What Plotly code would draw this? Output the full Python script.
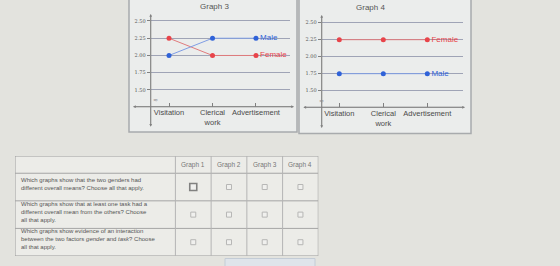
import plotly.graph_objects as go

W, H = 560, 266


def px(x):
    return x / W


def py(y):
    return 1 - y / H


# ---------------- data ----------------
tasks = ["Visitation", "Clerical work", "Advertisement"]
task_ticktext = ["Visitation", "Clerical<br>work", "Advertisement"]
y_ticks = [1.50, 1.75, 2.00, 2.25, 2.50]
y_ticktext = ["1.50", "1.75", "2.00", "2.25", "2.50"]

g3_male = [2.00, 2.25, 2.25]
g3_female = [2.25, 2.00, 2.00]
g4_female = [2.25, 2.25, 2.25]
g4_male = [1.75, 1.75, 1.75]

graph_names = ["Graph 1", "Graph 2", "Graph 3", "Graph 4"]
questions = [
    "Which graphs show that the two genders had<br>different overall means? Choose all that apply.",
    "Which graphs show that at least one task had a<br>different overall mean from the others? Choose<br>all that apply.",
    "Which graphs show evidence of an interaction<br>between the two factors <i>gender</i> and <i>task</i>? Choose<br>all that apply.",
]
focused = [[True, False, False, False],
           [False, False, False, False],
           [False, False, False, False]]

# ---------------- style ----------------
FONT = "Liberation Sans, Arial, sans-serif"
BLUE_M, BLUE_L = "#2f62d8", "#7f9de4"
RED_M, RED_L = "#e8444a", "#e07b7d"
GRID = "#9fa4b6"
AX = "#808080"

fig = go.Figure()


def add_series(xa, ya, vals, line_c, mark_c, label):
    fig.add_trace(go.Scatter(
        x=tasks, y=vals, xaxis=xa, yaxis=ya,
        mode="lines+markers+text",
        line=dict(color=line_c, width=1),
        marker=dict(color=mark_c, size=5),
        text=["", "", label], textposition="middle right",
        textfont=dict(color=mark_c, size=8, family=FONT),
        showlegend=False, hoverinfo="skip", cliponaxis=False,
    ))


add_series("x", "y", g3_female, RED_L, RED_M, "Female")
add_series("x", "y", g3_male, BLUE_L, BLUE_M, "Male")
add_series("x2", "y2", g4_female, RED_L, RED_M, "Female")
add_series("x2", "y2", g4_male, BLUE_L, BLUE_M, "Male")

# table checkboxes
cb_x, cb_y, cb_size, cb_lc, cb_lw = [], [], [], [], []
for i in range(len(questions)):
    for j in range(len(graph_names)):
        cb_x.append(j)
        cb_y.append(i)
        f = focused[i][j]
        cb_size.append(7 if f else 5)
        cb_lc.append("#555555" if f else "#a0a0a0")
        cb_lw.append(1.6 if f else 1)
fig.add_trace(go.Scatter(
    x=cb_x, y=cb_y, xaxis="x3", yaxis="y3", mode="markers",
    marker=dict(symbol="square", size=cb_size, color="#f3f3f1",
                line=dict(color=cb_lc, width=cb_lw)),
    showlegend=False, hoverinfo="skip",
))

common_x = dict(type="category", categoryorder="array", categoryarray=tasks,
                tickvals=tasks, ticktext=task_ticktext, anchor="free",
                ticks="inside", ticklen=4, tickcolor=AX, showline=False,
                showgrid=False, zeroline=False,
                tickfont=dict(size=7.5, color="#4a4a4a", family=FONT))
common_y = dict(tickvals=y_ticks, ticktext=y_ticktext, ticks="outside",
                ticklen=3, tickcolor=AX, showgrid=True, gridcolor=GRID,
                gridwidth=1, zeroline=False, showline=False,
                tickfont=dict(size=5, color="#555", family="DejaVu Serif"))

fig.update_layout(
    width=W, height=H, margin=dict(l=0, r=0, t=0, b=0),
    paper_bgcolor="#e3e3de", plot_bgcolor="rgba(0,0,0,0)",
    xaxis=dict(domain=[px(150.7), px(290)], range=[-0.421, 2.782],
               position=py(106.7), **common_x),
    yaxis=dict(domain=[py(126.7), py(14)], range=[0.968, 2.601],
               anchor="x", **common_y),
    xaxis2=dict(domain=[px(321.7), px(463)], range=[-0.4, 2.811],
                position=py(107.3), **common_x),
    yaxis2=dict(domain=[py(128), py(15)], range=[0.951, 2.613],
                anchor="x2", **common_y),
    xaxis3=dict(domain=[px(15), px(318.3)], range=[-4.99, 3.5], anchor="y3",
                visible=False, showgrid=False, zeroline=False),
    yaxis3=dict(domain=[py(256), py(156)], range=[2.5, -1.125], anchor="x3",
                visible=False, showgrid=False, zeroline=False),
)

shapes = []
# graph panels
shapes.append(dict(type="rect", xref="paper", yref="paper", layer="below",
                   x0=px(129), x1=px(297), y0=py(132), y1=py(-2),
                   fillcolor="#ebedec", line=dict(color="#a8abad", width=1.5)))
shapes.append(dict(type="rect", xref="paper", yref="paper", layer="below",
                   x0=px(299), x1=px(471), y0=py(133.5), y1=py(-2),
                   fillcolor="#ebedec", line=dict(color="#a8abad", width=1.5)))
# table
shapes.append(dict(type="rect", xref="x3", yref="y3", layer="below",
                   x0=-4.99, x1=3.5, y0=-1.125, y1=2.5,
                   fillcolor="#ecece8", line=dict(color="#9b9b9b", width=1)))
for yy in [-0.5, 0.5, 1.5]:
    shapes.append(dict(type="line", xref="x3", yref="y3", layer="below",
                       x0=-4.99, x1=3.5, y0=yy, y1=yy,
                       line=dict(color="#a5a5a5", width=1)))
for xx in [-0.5, 0.5, 1.5, 2.5]:
    shapes.append(dict(type="line", xref="x3", yref="y3", layer="below",
                       x0=xx, x1=xx, y0=-1.125, y1=2.5,
                       line=dict(color="#b5b5b5", width=1)))
# partially visible button
shapes.append(dict(type="rect", xref="paper", yref="paper", layer="below",
                   x0=px(225), x1=px(315), y0=py(272), y1=py(258.5),
                   fillcolor="#dfe4ea", line=dict(color="#c3ccd6", width=1)))
fig.update_layout(shapes=shapes)

ann = []


def arrow(hx, hy, ax, ay):
    ann.append(dict(xref="paper", yref="paper", x=px(hx), y=py(hy),
                    axref="pixel", ayref="pixel", ax=ax, ay=ay, text="",
                    showarrow=True, arrowhead=2, arrowsize=0.7,
                    arrowwidth=0.8, arrowcolor=AX))


# graph 3 axes
arrow(133, 106.7, 161, 0)
arrow(294, 106.7, -161, 0)
arrow(150.7, 14, 0, 112.7)
arrow(150.7, 126.7, 0, -112.7)
# graph 4 axes
arrow(303.3, 107.3, 161.7, 0)
arrow(465, 107.3, -161.7, 0)
arrow(321.7, 15, 0, 113)
arrow(321.7, 128, 0, -113)

for bx, by in [(150.7, 99.5), (321.7, 100)]:
    ann.append(dict(xref="paper", yref="paper", x=px(bx), y=py(by),
                    text="≈", showarrow=False, yanchor="middle",
                    font=dict(size=6, color="#8a8a8a", family="DejaVu Sans")))

for title, tx, ty in [("Graph 3", 214.3, 6.7), ("Graph 4", 386.7, 7.3)]:
    ann.append(dict(xref="paper", yref="paper", x=px(tx), y=py(ty),
                    text=title, showarrow=False, yanchor="middle",
                    font=dict(size=8, color="#555", family=FONT)))

for j, name in enumerate(graph_names):
    ann.append(dict(xref="x3", yref="y3", x=j, y=-0.8125, text=name,
                    showarrow=False,
                    font=dict(size=6.5, color="#777", family=FONT)))
for i, q in enumerate(questions):
    ann.append(dict(xref="x3", yref="y3", x=-4.89, y=i - 0.1, text=q,
                    showarrow=False, xanchor="left", yanchor="middle",
                    align="left",
                    font=dict(size=6, color="#555", family=FONT)))

fig.update_layout(annotations=ann)

fig.write_html("out.html")
